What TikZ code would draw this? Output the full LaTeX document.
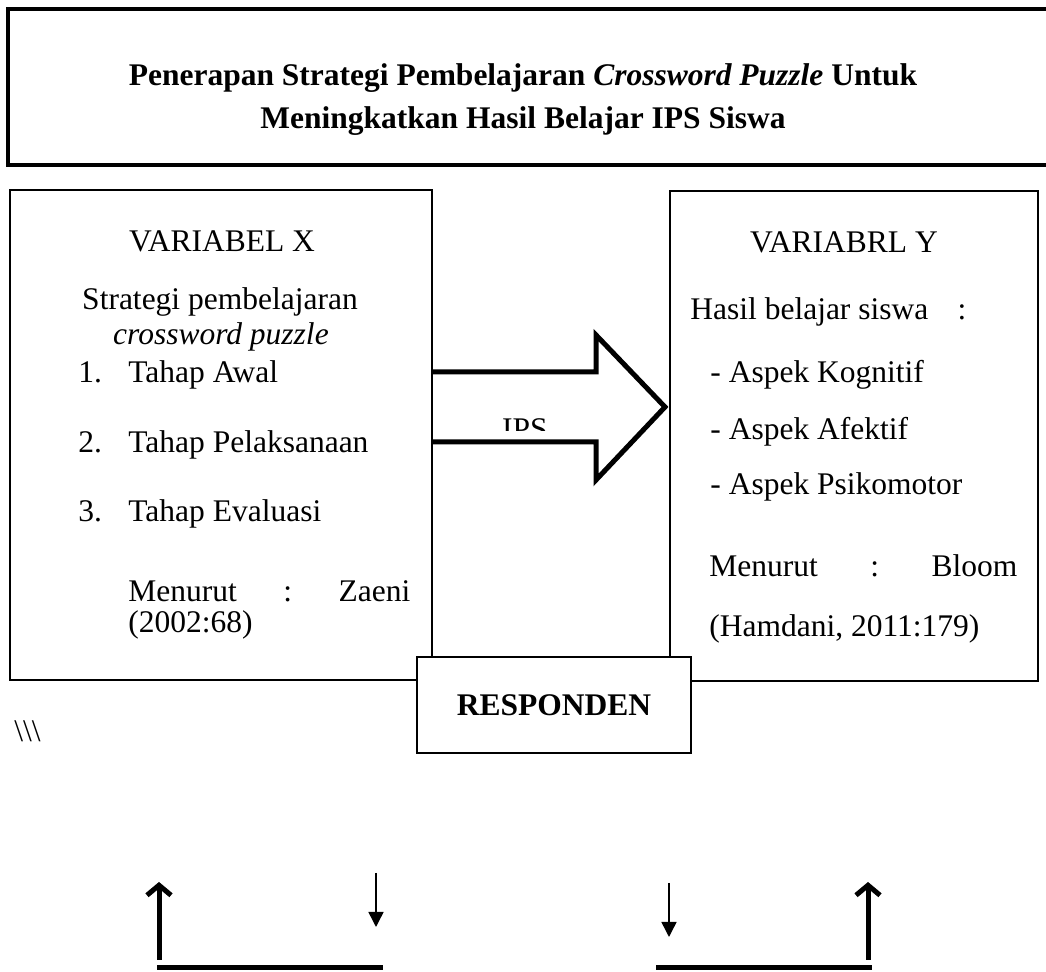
\documentclass[tikz,border=0pt]{standalone}
\usepackage{fontspec}
\setmainfont{Liberation Serif}
\usetikzlibrary{arrows.meta}

\begin{document}
\begin{tikzpicture}[x=0.5pt,y=-0.5pt,
  box/.style={draw,line width=1pt},
  txt/.style={anchor=base west,inner sep=0pt,font=\fontsize{15.75}{19}\selectfont},
  ctxt/.style={txt,anchor=base},
  head/.style={anchor=base,inner sep=0pt,font=\fontsize{15.75}{19}\selectfont\bfseries},
  thin/.style={-{Triangle[width=7.5pt,length=7.5pt]},line width=0.75pt},
  fat/.style={-{Straight Barb[length=5pt,width=12pt]},line width=2.5pt},
  bar/.style={line width=2.5pt}]
\useasboundingbox (0,0) rectangle (1046,972);

\draw[line width=2pt] (8,9) rectangle (1060,165);
\node[head] (T1) at (523,86) {Penerapan Strategi Pembelajaran \textit{Crossword Puzzle} Untuk};
\node[head] (T2) at (523,129) {Meningkatkan Hasil Belajar IPS Siswa};

\draw[box] (10,190) rectangle (432,680);
\draw[box] (670,191) rectangle (1038,681);

\node[ctxt] (VX) at (222,252) {VARIABEL X};
\node[ctxt] (SP) at (220,310) {Strategi pembelajaran};
\node[ctxt] (CP) at (221,345) {\itshape crossword puzzle};
\node[txt] (N1) at (78,383) {1.};
\node[txt] (S1) at (128,383) {Tahap Awal};
\node[txt] (N2) at (78,453) {2.};
\node[txt] (S2) at (128,453) {Tahap Pelaksanaan};
\node[txt] (N3) at (78,522) {3.};
\node[txt] (S3) at (128,522) {Tahap Evaluasi};
\node[txt] (MX) at (128,602) {\makebox[141pt][l]{Menurut\hfill:\hfill Zaeni}};
\node[txt] (RX) at (128,633) {(2002:68)};

\node[ctxt] (VY) at (844,253) {VARIABRL Y};
\node[txt] (HB) at (690,320) {Hasil belajar siswa};
\node[ctxt] (HC) at (962,320) {:};
\node[txt] (K1) at (710,383) {- Aspek Kognitif};
\node[txt] (K2) at (710,440) {- Aspek Afektif};
\node[txt] (K3) at (710,495) {- Aspek Psikomotor};
\node[txt] (MY) at (709,577) {\makebox[154pt][l]{Menurut\hfill:\hfill Bloom}};
\node[txt] (RY) at (709,637) {(Hamdani, 2011:179)};

\coordinate (P0) at (432,372);
\coordinate (P1) at (596,372);
\coordinate (P2) at (596,335);
\coordinate (P3) at (665,407);
\coordinate (P4) at (596,480);
\coordinate (P5) at (596,442);
\coordinate (P6) at (432,442);
\draw[line width=2.5pt] (P0) -- (P1) -- (P2) -- (P3) -- (P4) -- (P5) -- (P6);
\begin{scope}
\clip (P0) rectangle (596,431);
\node[ctxt] (IPS) at (525,440) {IPS};
\end{scope}

\node[box,fill=white,minimum width=137pt,minimum height=48pt,inner sep=0pt,
  font=\fontsize{15.75}{19}\selectfont\bfseries] (R) at (554,705) {RESPONDEN};

\node[txt] (BS) at (14,742) {\textbackslash\textbackslash\textbackslash};

\coordinate (L0) at (159,960);
\coordinate (L1) at (159,882);
\coordinate (L2) at (376,873);
\coordinate (L3) at (376,927);
\coordinate (L4) at (157,968);
\coordinate (L5) at (383,968);
\coordinate (R0) at (868,960);
\coordinate (R1) at (868,882);
\coordinate (R2) at (669,883);
\coordinate (R3) at (669,937);
\coordinate (R4) at (656,968);
\coordinate (R5) at (872,968);

\draw[fat] (L0) -- (L1);
\draw[thin] (L2) -- (L3);
\draw[bar] (L4) -- (L5);
\draw[fat] (R0) -- (R1);
\draw[thin] (R2) -- (R3);
\draw[bar] (R4) -- (R5);

\end{tikzpicture}
\end{document}
